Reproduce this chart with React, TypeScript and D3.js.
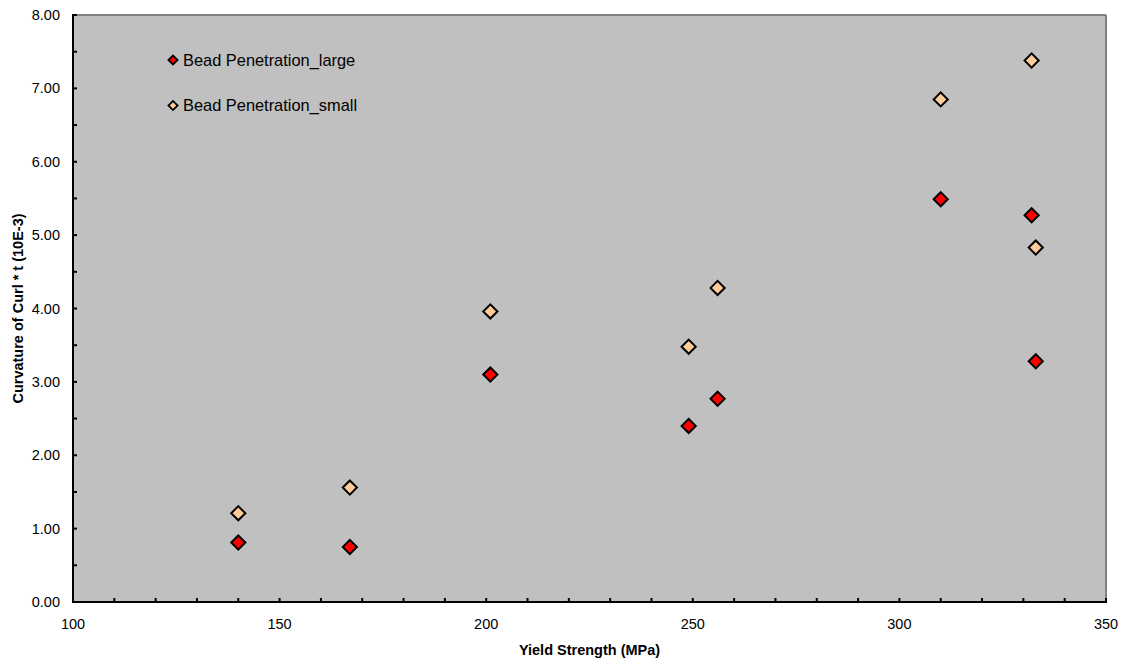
import React from "react";
import * as d3 from "d3";

const yieldStrength = [140, 167, 201, 249, 256, 310, 332, 333];
const largeValues = [0.81, 0.75, 3.1, 2.4, 2.77, 5.49, 5.27, 3.28];
const smallValues = [1.21, 1.56, 3.96, 3.48, 4.28, 6.85, 7.38, 4.83];
const xTicks = [100, 150, 200, 250, 300, 350];
const yTicks = [0, 1, 2, 3, 4, 5, 6, 7, 8];
const seriesNames = ["Bead Penetration_large", "Bead Penetration_small"];
const seriesColors = ["#FF0000", "#FFCC99"];

const W = 1126;
const H = 665;
const L = 73, R = 1106, T = 15, B = 602;

export default function App() {
  const x = d3.scaleLinear().domain([100, 350]).range([L, R]);
  const y = d3.scaleLinear().domain([0, 8]).range([B, T]);
  const marker = d3.symbol(d3.symbolSquare, 100)();
  const legendMarker = d3.symbol(d3.symbolSquare, 42)();
  const xMinor = d3.range(100, 351, 10);
  const yMinor = d3.range(0, 8.01, 0.5);
  const series = [largeValues, smallValues];
  const font = "Arial, 'Liberation Sans', sans-serif";

  return (
    <svg width={W} height={H} style={{ position: "absolute", left: 0, top: 0, background: "#fff" }} fontFamily={font}>
      <rect x={L} y={T} width={R - L} height={B - T} fill="#C0C0C0" />
      {/* top/right border */}
      <line x1={L} y1={T} x2={R} y2={T} stroke="#808080" strokeWidth={2} />
      <line x1={R} y1={T} x2={R} y2={B} stroke="#808080" strokeWidth={2} />
      {/* x minor ticks */}
      {xMinor.map((v) => (
        <line key={"xt" + v} x1={x(v)} x2={x(v)} y1={B} y2={B - 4} stroke="#000" strokeWidth={2} />
      ))}
      {yMinor.map((v) => (
        <line key={"yt" + v} x1={L} x2={L + 4} y1={y(v)} y2={y(v)} stroke="#000" strokeWidth={2} />
      ))}
      {/* axes */}
      <line x1={L} y1={T - 1} x2={L} y2={B + 1} stroke="#000" strokeWidth={2} />
      <line x1={L - 1} y1={B} x2={R + 1} y2={B} stroke="#000" strokeWidth={2} />
      {/* tick labels */}
      {yTicks.map((v) => (
        <text key={"yl" + v} x={L - 13} y={y(v)} dy="0.35em" textAnchor="end" fontSize={14.5} fill="#000">
          {d3.format(".2f")(v)}
        </text>
      ))}
      {xTicks.map((v) => (
        <text key={"xl" + v} x={x(v)} y={624} dy="0.35em" textAnchor="middle" fontSize={14.5} fill="#000">
          {v}
        </text>
      ))}
      {/* axis titles */}
      <text x={(L + R) / 2} y={650} dy="0.35em" textAnchor="middle" fontSize={14.5} fontWeight="bold">
        Yield Strength (MPa)
      </text>
      <text
        transform={`translate(18,${(T + B) / 2}) rotate(-90)`}
        dy="0.35em"
        textAnchor="middle"
        fontSize={14.5}
        fontWeight="bold"
      >
        Curvature of Curl * t (10E-3)
      </text>
      {/* points */}
      {series.map((vals, si) =>
        vals.map((v, i) => (
          <path
            key={`p${si}-${i}`}
            d={marker}
            transform={`translate(${x(yieldStrength[i])},${y(v)}) rotate(45)`}
            fill={seriesColors[si]}
            stroke="#000"
            strokeWidth={2}
          />
        ))
      )}
      {/* legend */}
      {seriesNames.map((n, i) => (
        <g key={n} transform={`translate(173,${60 + i * 45.5})`}>
          <path d={legendMarker} transform="rotate(45)" fill={seriesColors[i]} stroke="#000" strokeWidth={1.8} />
          <text x={10} dy="0.35em" fontSize={16.4} fill="#000">
            {n}
          </text>
        </g>
      ))}
    </svg>
  );
}
